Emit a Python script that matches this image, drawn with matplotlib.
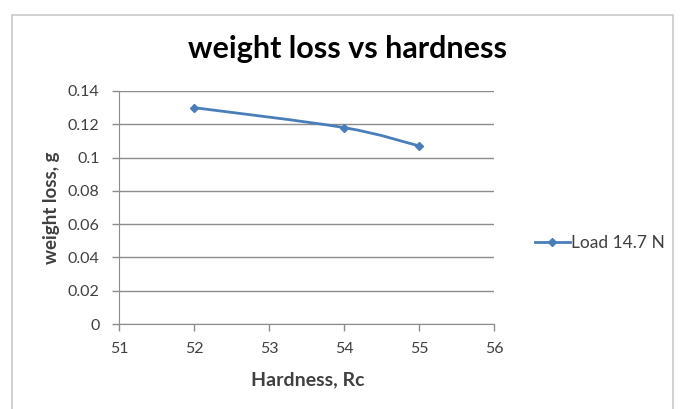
import numpy as np
import matplotlib.pyplot as plt
from matplotlib.patches import Rectangle, PathPatch
from matplotlib.path import Path

hardness = [52, 54, 55]
weight_loss = [0.130, 0.118, 0.107]
series_name = 'Load 14.7 N'
xticks = [51, 52, 53, 54, 55, 56]
yticks = [0, 0.02, 0.04, 0.06, 0.08, 0.1, 0.12, 0.14]
ytick_labels = ['0', '0.02', '0.04', '0.06', '0.08', '0.1', '0.12', '0.14']

blue = '#4a7ebb'
grid = '#8c8c8c'
txt = '#404040'

plt.rcParams['font.family'] = ['Lato', 'DejaVu Sans']

W, H = 686, 409
fig = plt.figure(figsize=(W / 100, H / 100), dpi=100)
fig.patch.set_facecolor('white')

# chart area frame
fig.patches.append(Rectangle((12 / W, -0.05), 661 / W, 1 - 15 / H + 0.05,
                             transform=fig.transFigure, fill=False,
                             edgecolor='#c8c8c8', lw=1.2))

ax = fig.add_axes([119 / W, 1 - 324 / H, (494 - 119) / W, (324 - 91) / H])
ax.set_xlim(51, 56)
ax.set_ylim(0, 0.14)

ax.set_yticks(yticks)
ax.set_yticklabels(ytick_labels)
ax.set_xticks(xticks)
ax.yaxis.grid(True, color=grid, lw=1)
ax.set_axisbelow(True)
for s in ['top', 'right']:
    ax.spines[s].set_visible(False)
ax.spines['left'].set_color(grid)
ax.spines['bottom'].set_color(grid)
ax.tick_params(axis='both', colors=grid, length=5, width=1, direction='out',
               labelcolor=txt, labelsize=11.5)
ax.tick_params(axis='y', pad=9)
ax.tick_params(axis='x', pad=8)

# smoothed line through the points (Catmull-Rom style bezier)
x = np.array(hardness, dtype=float)
y = np.array(weight_loss, dtype=float)
verts = [(x[0], y[0])]
codes = [Path.MOVETO]
n = len(x)
for i in range(n - 1):
    x0, y0 = (x[i - 1], y[i - 1]) if i > 0 else (x[i], y[i])
    x3, y3 = (x[i + 2], y[i + 2]) if i + 2 < n else (x[i + 1], y[i + 1])
    c1 = (x[i] + (x[i + 1] - x0) / 6, y[i] + (y[i + 1] - y0) / 6)
    c2 = (x[i + 1] - (x3 - x[i]) / 6, y[i + 1] - (y3 - y[i]) / 6)
    verts += [c1, c2, (x[i + 1], y[i + 1])]
    codes += [Path.CURVE4] * 3
ax.add_patch(PathPatch(Path(verts, codes), fill=False, edgecolor=blue, lw=2.0,
                       capstyle='round', zorder=3))
ax.plot(hardness, weight_loss, linestyle='none', marker='D', ms=4,
        color=blue, zorder=4)

# legend entry
ax.plot([], [], color=blue, lw=2.0, marker='D', ms=4, label=series_name)
leg = fig.legend(loc='center left', bbox_to_anchor=(528 / W, 1 - 243 / H),
                 frameon=False, fontsize=12.5, handlelength=2.0,
                 handletextpad=0.1, borderaxespad=0)
for t in leg.get_texts():
    t.set_color(txt)

fig.text(347 / W, 1 - 49 / H, 'weight loss vs hardness', ha='center',
         va='center', fontsize=22, fontweight='bold', color='black')
fig.text(51 / W, 1 - 208 / H, 'weight loss, g', ha='center', va='center',
         rotation=90, fontsize=13.5, fontweight='bold', color=txt)
fig.text(308 / W, 1 - 380 / H, 'Hardness, Rc', ha='center', va='center',
         fontsize=14, fontweight='bold', color=txt)

fig.savefig('out.png', dpi=100)
